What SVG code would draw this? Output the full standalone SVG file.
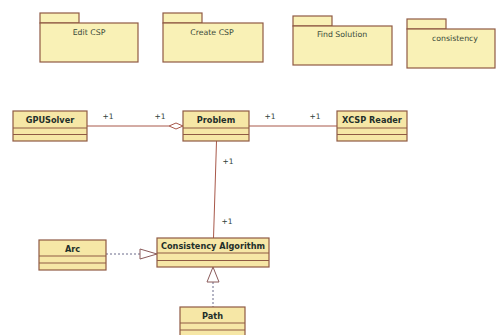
<svg xmlns="http://www.w3.org/2000/svg" width="496" height="335" viewBox="0 0 496 335">
  <style>
    .pkg { fill: #f9f1b6; stroke: #8f5a44; stroke-width: 1.2; }
    .cls { fill: #f6e7a6; stroke: #8f5a44; stroke-width: 1.2; }
    .sep { stroke: #8f5a44; stroke-width: 1; }
    .pkgtxt { font-family: "DejaVu Sans", sans-serif; font-size: 7.8px; fill: #3a4a3a; text-anchor: middle; }
    .clstxt { font-family: "DejaVu Sans", sans-serif; font-size: 8.2px; font-weight: bold; fill: #1f2f2a; text-anchor: middle; }
    .mult { font-family: "DejaVu Sans", sans-serif; font-size: 7.5px; fill: #2f3f3a; text-anchor: middle; }
    .assoc { stroke: #a8584a; stroke-width: 1; fill: none; }
    .dash { stroke: #6a6a8a; stroke-width: 1; stroke-dasharray: 2 2; fill: none; }
    .tri { fill: #ffffff; stroke: #8a5a5a; stroke-width: 1; }
  </style>

  <!-- packages -->
  <g id="pkg-edit-csp">
    <rect class="pkg" x="40" y="13" width="39" height="10"/>
    <rect class="pkg" x="40" y="23" width="98" height="39"/>
    <text class="pkgtxt" x="89" y="35">Edit CSP</text>
  </g>
  <g id="pkg-create-csp">
    <rect class="pkg" x="163" y="13" width="39" height="10"/>
    <rect class="pkg" x="163" y="23" width="100" height="39"/>
    <text class="pkgtxt" x="212" y="35">Create CSP</text>
  </g>
  <g id="pkg-find-solution">
    <rect class="pkg" x="293" y="16" width="39" height="10"/>
    <rect class="pkg" x="293" y="26" width="99" height="39"/>
    <text class="pkgtxt" x="342" y="37">Find Solution</text>
  </g>
  <g id="pkg-consistency">
    <rect class="pkg" x="407" y="19" width="39" height="10"/>
    <rect class="pkg" x="407" y="29" width="88" height="39"/>
    <text class="pkgtxt" x="455" y="41">consistency</text>
  </g>

  <!-- connectors -->
  <g id="connectors">
    <line class="assoc" x1="87" y1="126" x2="169" y2="126"/>
    <polygon points="169,126 176,123 183,126 176,129" fill="#ffffff" stroke="#a8584a" stroke-width="1"/>
    <line class="assoc" x1="249" y1="126" x2="337" y2="126"/>
    <polyline class="assoc" points="216.5,141 215,190 213.5,238"/>
    <line class="dash" x1="106" y1="254" x2="140" y2="254"/>
    <polygon class="tri" points="140,249 157,254 140,259"/>
    <line class="dash" x1="213" y1="282" x2="213" y2="307"/>
    <polygon class="tri" points="207,282 213,267 219,282"/>
    <text class="mult" x="108" y="119">+1</text>
    <text class="mult" x="160" y="119">+1</text>
    <text class="mult" x="270" y="119">+1</text>
    <text class="mult" x="315" y="119">+1</text>
    <text class="mult" x="228" y="164">+1</text>
    <text class="mult" x="227" y="224">+1</text>
  </g>

  <!-- classes -->
  <g id="cls-gpusolver">
    <rect class="cls" x="13" y="111" width="74" height="30"/>
    <line class="sep" x1="13" y1="128" x2="87" y2="128"/>
    <line class="sep" x1="13" y1="134.5" x2="87" y2="134.5"/>
    <text class="clstxt" x="50" y="122.5">GPUSolver</text>
  </g>
  <g id="cls-problem">
    <rect class="cls" x="183" y="111" width="66" height="30"/>
    <line class="sep" x1="183" y1="128" x2="249" y2="128"/>
    <line class="sep" x1="183" y1="134.5" x2="249" y2="134.5"/>
    <text class="clstxt" x="216" y="122.5">Problem</text>
  </g>
  <g id="cls-xcsp-reader">
    <rect class="cls" x="337" y="111" width="70" height="30"/>
    <line class="sep" x1="337" y1="128" x2="407" y2="128"/>
    <line class="sep" x1="337" y1="134.5" x2="407" y2="134.5"/>
    <text class="clstxt" x="372" y="122.5">XCSP Reader</text>
  </g>
  <g id="cls-consistency-algorithm">
    <rect class="cls" x="157" y="238" width="112" height="29"/>
    <line class="sep" x1="157" y1="253" x2="269" y2="253"/>
    <line class="sep" x1="157" y1="260.5" x2="269" y2="260.5"/>
    <text class="clstxt" x="213" y="248.5">Consistency Algorithm</text>
  </g>
  <g id="cls-arc">
    <rect class="cls" x="39" y="240" width="67" height="30"/>
    <line class="sep" x1="39" y1="256" x2="106" y2="256"/>
    <line class="sep" x1="39" y1="263" x2="106" y2="263"/>
    <text class="clstxt" x="72.5" y="251.5">Arc</text>
  </g>
  <g id="cls-path">
    <rect class="cls" x="180" y="307" width="65" height="30"/>
    <line class="sep" x1="180" y1="323" x2="245" y2="323"/>
    <line class="sep" x1="180" y1="330" x2="245" y2="330"/>
    <text class="clstxt" x="212.5" y="318.5">Path</text>
  </g>
</svg>
